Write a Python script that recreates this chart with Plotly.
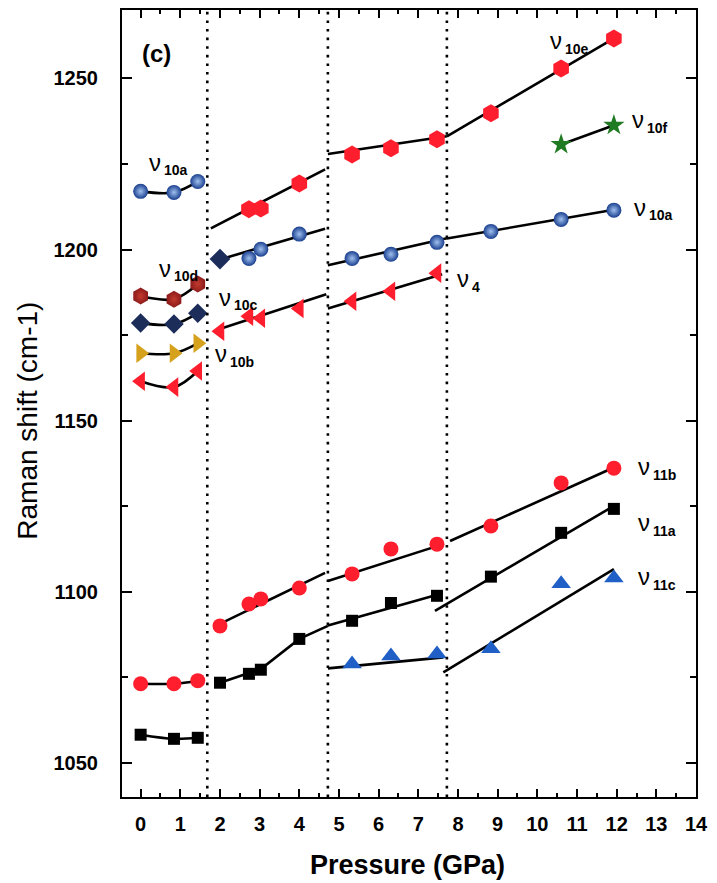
import plotly.graph_objects as go

# ---------------- data ----------------
P1 = [0.0, 0.84, 1.44]
P2 = [2.0, 2.73, 3.03, 4.0]
P2b = [2.73, 3.03, 4.0]
P3 = [5.33, 6.31, 7.47]
P4 = [8.83, 10.6, 11.93]
P_star = [10.6, 11.93]

# segment 1
nu10a_1 = [1217.0, 1216.7, 1219.9]
nu10d_1 = [1186.4, 1185.5, 1189.9]
diam_1 = [1178.5, 1178.2, 1181.4]
yel_1 = [1169.7, 1169.7, 1172.6]
tril_1 = [1161.5, 1159.8, 1164.5]
circ_1 = [1073.1, 1073.1, 1074.0]
sq_1 = [1058.2, 1057.0, 1057.3]

# segment 2
hex_2 = [1211.8, 1212.0, 1219.3]
diam_2_P = [2.0]
diam_2 = [1197.2]
sph_2 = [1197.4, 1200.1, 1204.5]
tril_2 = [1176.1, 1180.5, 1179.9, 1182.8]
circ_2 = [1090.0, 1096.4, 1097.9, 1101.1]
sq_2 = [1073.4, 1076.0, 1077.2, 1086.2]

# segment 3
hex_3 = [1227.8, 1229.6, 1232.2]
sph_3 = [1197.4, 1198.6, 1202.1]
tril_3 = [1184.9, 1187.8, 1193.1]
circ_3 = [1105.2, 1112.5, 1113.9]
sq_3 = [1091.5, 1096.7, 1098.8]
btri_3 = [1078.9, 1081.2, 1081.8]

# segment 4
hex_4 = [1239.8, 1252.9, 1261.7]
sph_4 = [1205.3, 1208.8, 1211.5]
circ_4 = [1119.2, 1131.8, 1136.1]
sq_4 = [1104.4, 1117.2, 1124.2]
btri_4 = [1083.3, 1102.3, 1104.0]
star_4 = [1230.7, 1236.3]

# fitted lines (x list, y list)
fits = [
    ([1.77, 4.65], [1206.2, 1223.4]),
    ([2.0, 4.65], [1197.1, 1206.1]),
    ([2.05, 4.68], [1177.0, 1186.9]),
    ([2.05, 4.65], [1090.9, 1105.5]),
    ([2.0, 3.03, 4.0, 4.72], [1073.4, 1077.4, 1086.2, 1090.0]),
    ([4.72, 7.72], [1227.9, 1233.1]),
    ([4.72, 7.72], [1195.4, 1203.3]),
    ([4.72, 7.6], [1182.8, 1192.8]),
    ([4.72, 7.63], [1103.1, 1113.9]),
    ([4.72, 7.5], [1090.1, 1099.2]),
    ([4.72, 7.63], [1077.6, 1080.8]),
    ([7.72, 11.93], [1233.1, 1261.7]),
    ([7.72, 11.93], [1203.2, 1211.6]),
    ([7.8, 11.93], [1114.8, 1136.3]),
    ([7.42, 11.92], [1094.4, 1125.0]),
    ([7.63, 11.93], [1076.4, 1106.6]),
    ([10.6, 11.93], [1230.7, 1236.3]),
]
# curved fits in the first segment go through the points
curves1 = [nu10a_1, nu10d_1, diam_1, yel_1, tril_1, circ_1, sq_1]

boundaries = [1.68, 4.72, 7.72]

# (x at the join of nu and subscript, y, subscript)
labels = [
    (0.57, 1225.5, "10a"),
    (0.81, 1194.5, "10d"),
    (2.33, 1186.0, "10c"),
    (2.23, 1169.5, "10b"),
    (8.33, 1191.5, "4"),
    (10.68, 1261.0, "10e"),
    (12.75, 1238.0, "10f"),
    (12.8, 1212.3, "10a"),
    (12.88, 1136.5, "11b"),
    (12.88, 1120.2, "11a"),
    (12.88, 1104.4, "11c"),
]

# ---------------- styles ----------------
RED = "#ff1e2d"
BLUE = "#1a3f8f"
BLUE_HI = "#9fc0ee"
DRED = "#8c1b1b"
NAVY = "#1c2d5a"
YEL = "#d6a21e"
BTRI = "#1f5fc6"
GREEN = "#207a22"
FONT = "Liberation Sans"

fig = go.Figure()

def line(xs, ys, spline=False):
    fig.add_trace(go.Scatter(x=xs, y=ys, mode="lines",
                             line=dict(color="black", width=2.6,
                                       shape="spline" if spline else "linear"),
                             hoverinfo="skip", showlegend=False))

for ys in curves1:
    line(P1, ys, spline=True)
for xs, ys in fits:
    line(xs, ys)

def pts(xs, ys, symbol, color, size, grad=None):
    m = dict(symbol=symbol, color=color, size=size, line=dict(width=0))
    if grad:
        m["gradient"] = dict(type="radial", color=grad)
    fig.add_trace(go.Scatter(x=xs, y=ys, mode="markers", marker=m,
                             showlegend=False))

HEX = 18
TRI = 17
SPH = 15
# segment 1
pts(P1, nu10a_1, "circle", BLUE, SPH, BLUE_HI)
pts(P1, nu10d_1, "hexagon", DRED, 17, "#c23a2e")
pts(P1, diam_1, "diamond", NAVY, 15)
pts(P1, yel_1, "triangle-right", YEL, TRI)
pts(P1, tril_1, "triangle-left", RED, TRI)
pts(P1, circ_1, "circle", RED, 15)
pts(P1, sq_1, "square", "black", 12)
# segment 2
pts(P2b, hex_2, "hexagon", RED, HEX)
pts(diam_2_P, diam_2, "diamond", NAVY, 16)
pts(P2b, sph_2, "circle", BLUE, SPH, BLUE_HI)
pts(P2, tril_2, "triangle-left", RED, TRI)
pts(P2, circ_2, "circle", RED, 15)
pts(P2, sq_2, "square", "black", 12)
# segment 3
pts(P3, hex_3, "hexagon", RED, HEX)
pts(P3, sph_3, "circle", BLUE, SPH, BLUE_HI)
pts(P3, tril_3, "triangle-left", RED, TRI)
pts(P3, circ_3, "circle", RED, 15)
pts(P3, sq_3, "square", "black", 12)
pts(P3, btri_3, "triangle-up", BTRI, TRI)
# segment 4
pts(P4, hex_4, "hexagon", RED, HEX)
pts(P4, sph_4, "circle", BLUE, SPH, BLUE_HI)
pts(P4, circ_4, "circle", RED, 15)
pts(P4, sq_4, "square", "black", 12)
pts(P4, btri_4, "triangle-up", BTRI, TRI)
pts(P_star, star_4, "star", GREEN, 16)

for b in boundaries:
    fig.add_shape(type="line", xref="x", yref="paper", x0=b, x1=b, y0=0, y1=1,
                  line=dict(color="black", width=2.6, dash="2.6px,6px"))

for x, y, sub in labels:
    fig.add_annotation(x=x, y=y, xref="x", yref="y", showarrow=False,
                       xanchor="right", yanchor="middle", text="ν",
                       font=dict(family=FONT, size=24, color="black"))
    fig.add_annotation(x=x, y=y, xref="x", yref="y", showarrow=False,
                       xanchor="left", yanchor="middle", yshift=-8, xshift=-1,
                       text=sub,
                       font=dict(family=FONT, size=14, color="black", weight="bold"))

fig.add_annotation(x=0.41, y=1257.3, xref="x", yref="y", showarrow=False,
                   text="(c)", font=dict(family=FONT, size=24, color="black", weight="bold"))

fig.add_annotation(x=-0.164, y=0.478, xref="paper", yref="paper", showarrow=False,
                   xanchor="center", yanchor="middle",
                   text="Raman shift (cm-1)", textangle=-90,
                   font=dict(family=FONT, size=28, color="black"))
fig.add_annotation(x=0.498, y=-0.086, xref="paper", yref="paper", showarrow=False,
                   xanchor="center", yanchor="middle",
                   text="Pressure (GPa)",
                   font=dict(family=FONT, size=27, color="black", weight="bold"))

axis_common = dict(showline=True, linecolor="black", linewidth=2.2, mirror="ticks",
                   ticks="inside", tickcolor="black", tickwidth=2,
                   showgrid=False, zeroline=False)

fig.update_xaxes(range=[-0.47, 14], tick0=0, dtick=1, ticklen=8,
                 minor=dict(ticks="inside", dtick=0.5, ticklen=4, tickcolor="black", tickwidth=2),
                 tickfont=dict(family=FONT, size=20, color="black", weight="bold"),
                 ticklabelstandoff=8, **axis_common)
fig.update_yaxes(range=[1040, 1270], tick0=1050, dtick=50, ticklen=10,
                 minor=dict(ticks="inside", dtick=25, ticklen=6, tickcolor="black", tickwidth=2),
                 tickfont=dict(family=FONT, size=20, color="black", weight="bold"),
                 ticklabelstandoff=18, **axis_common)

fig.update_layout(width=717, height=883, margin=dict(l=122, r=21, t=8, b=86),
                  paper_bgcolor="white", plot_bgcolor="white", showlegend=False)

fig.write_html("out.html")
